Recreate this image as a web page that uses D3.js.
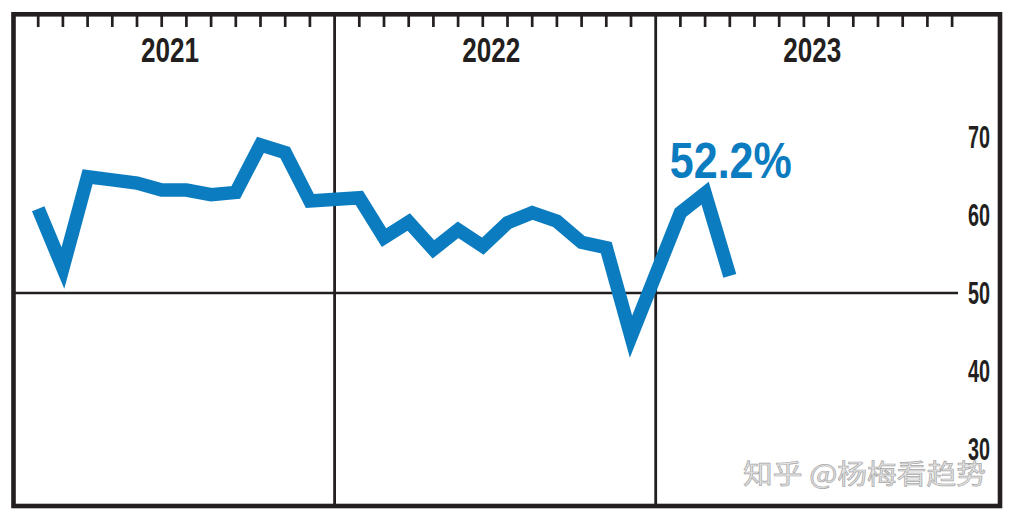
<!DOCTYPE html>
<html>
<head>
<meta charset="utf-8">
<script src="https://cdn.jsdelivr.net/npm/d3@7/dist/d3.min.js"></script>
<style>
  html, body { margin: 0; padding: 0; background: #fff; }
  svg { display: block; }
</style>
</head>
<body>
<svg id="chart" width="1014" height="516"></svg>
<script>
// ---- data ----
const years = ["2021", "2022", "2023"];
const monthsPerYear = 12;
const values2021 = [60.8, 53.2, 64.9, 64.5, 64.1, 63.2, 63.2, 62.6, 62.9, 69.0, 68.0, 61.8];
const values2022 = [62.2, 57.1, 59.1, 55.6, 58.1, 56.0, 59.0, 60.3, 59.2, 56.5, 55.8, 44.4];
const values2023 = [60.3, 62.8, 52.2];
const yTicks = [30, 40, 50, 60, 70];
const lastLabel = "52.2%";
const watermark = "知乎 @杨梅看趋势";

// ---- layout ----
const W = 1014, H = 516;
const frame = { x0: 13.5, y0: 14.3, x1: 1000, y1: 506 };
const ink = "#231f20";
const blue = "#0b7cbf";
const bold = "'Liberation Sans', Arial, sans-serif";

const svg = d3.select("#chart");

// each year takes 13 slots: a divider slot + 12 months
const slotsPerYear = monthsPerYear + 1;
const x = d3.scaleLinear().domain([0, 40]).range([13.5, 1001.5]);
const y = d3.scaleLinear().domain([30, 70]).range([449, 137]);

const series = [values2021, values2022, values2023];
const points = [];
series.forEach((vals, yi) => {
  vals.forEach((v, mi) => points.push({ idx: yi * slotsPerYear + mi + 1, v }));
});

// background
svg.append("rect").attr("x", 0).attr("y", 0).attr("width", W).attr("height", H).attr("fill", "#fff");

// watermark (behind everything)
svg.append("text")
  .attr("x", 743).attr("y", 484)
  .attr("font-family", "'Noto Sans CJK SC', sans-serif")
  .attr("font-size", 27)
  .attr("textLength", 243)
  .attr("lengthAdjust", "spacingAndGlyphs")
  .attr("fill", "#e4e4e4")
  .attr("stroke", "#a8a8a8")
  .attr("stroke-width", 0.7)
  .text(watermark);

// 50 reference line
svg.append("line")
  .attr("x1", frame.x0).attr("x2", 958)
  .attr("y1", y(50)).attr("y2", y(50))
  .attr("stroke", ink).attr("stroke-width", 2.6);

// year dividers
years.slice(1).forEach((yr, i) => {
  const xd = x((i + 1) * slotsPerYear);
  svg.append("line")
    .attr("x1", xd).attr("x2", xd)
    .attr("y1", frame.y0).attr("y2", frame.y1)
    .attr("stroke", ink).attr("stroke-width", 2.8);
});

// top month ticks
const tickIdx = [];
years.forEach((yr, yi) => {
  for (let m = 0; m < monthsPerYear; m++) tickIdx.push(yi * slotsPerYear + m + 1);
});
svg.append("g").selectAll("line").data(tickIdx).join("line")
  .attr("x1", d => x(d)).attr("x2", d => x(d))
  .attr("y1", frame.y0).attr("y2", 27)
  .attr("stroke", ink).attr("stroke-width", 2.7);

// year labels
svg.append("g").selectAll("text").data(years).join("text")
  .attr("x", (d, i) => x(i * slotsPerYear + 6.5) - 4)
  .attr("y", 62)
  .attr("text-anchor", "middle")
  .attr("font-family", bold)
  .attr("font-weight", "bold")
  .attr("font-size", 35)
  .attr("textLength", 58)
  .attr("lengthAdjust", "spacingAndGlyphs")
  .attr("fill", ink)
  .text(d => d);

// y-axis labels (right side)
svg.append("g").selectAll("text").data(yTicks).join("text")
  .attr("x", 990)
  .attr("y", d => y(d) + 11)
  .attr("text-anchor", "end")
  .attr("font-family", bold)
  .attr("font-weight", "bold")
  .attr("font-size", 30.5)
  .attr("textLength", 22)
  .attr("lengthAdjust", "spacingAndGlyphs")
  .attr("fill", ink)
  .text(d => d);

// data line
const line = d3.line().x(d => x(d.idx)).y(d => y(d.v));
svg.append("path")
  .datum(points)
  .attr("d", line)
  .attr("fill", "none")
  .attr("stroke", blue)
  .attr("stroke-width", 13.5)
  .attr("stroke-linejoin", "miter")
  .attr("stroke-miterlimit", 6)
  .attr("stroke-linecap", "butt");

// last value label
const last = points[points.length - 1];
svg.append("text")
  .attr("x", x(last.idx) + 1)
  .attr("y", 178)
  .attr("text-anchor", "middle")
  .attr("font-family", bold)
  .attr("font-weight", "bold")
  .attr("font-size", 50)
  .attr("textLength", 122)
  .attr("lengthAdjust", "spacingAndGlyphs")
  .attr("fill", blue)
  .text(lastLabel);

// frame
svg.append("rect")
  .attr("x", frame.x0).attr("y", frame.y0)
  .attr("width", frame.x1 - frame.x0).attr("height", frame.y1 - frame.y0)
  .attr("fill", "none")
  .attr("stroke", ink)
  .attr("stroke-width", 4.6);
</script>
</body>
</html>
